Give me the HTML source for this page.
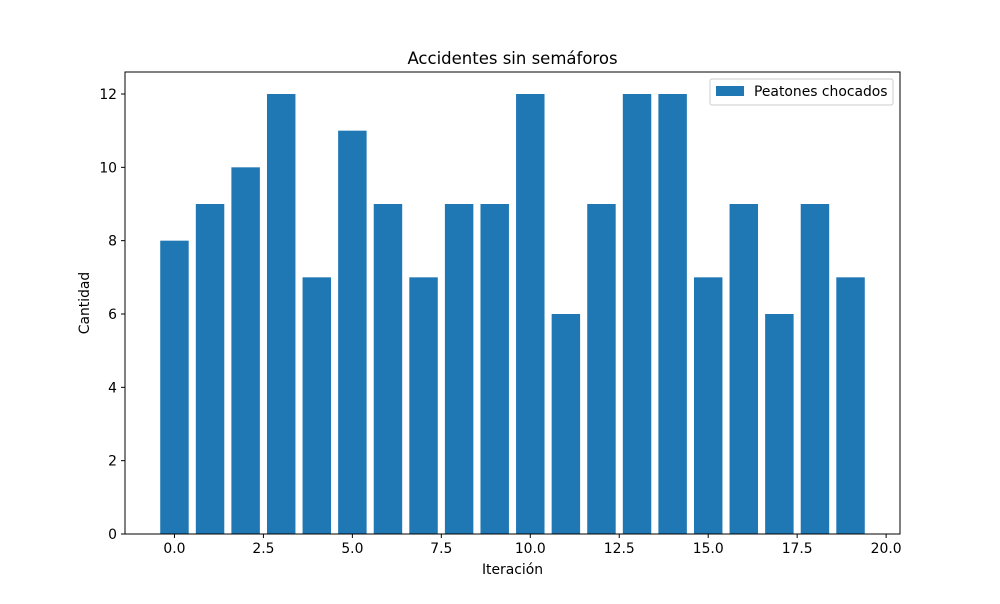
<!DOCTYPE html>
<html><head><meta charset="utf-8"><style>
body{margin:0;background:#fff;font-family:"DejaVu Sans","Liberation Sans",sans-serif}
</style></head><body>
<svg id="chart" width="1000" height="600" xmlns="http://www.w3.org/2000/svg" font-family="DejaVu Sans, Liberation Sans, sans-serif">
<rect width="1000" height="600" fill="#fff"/>
<g id="bars"></g>
<g id="axes"></g>
<rect x="125" y="72" width="775" height="462" fill="none" stroke="#000" stroke-width="1"/>
<text x="512.5" y="64" text-anchor="middle" font-size="16.5">Accidentes sin semáforos</text>
<text x="512.5" y="574" text-anchor="middle" font-size="13.9">Iteración</text>
<text transform="translate(89,303) rotate(-90)" text-anchor="middle" font-size="13.9">Cantidad</text>
<g>
<rect x="710" y="79" width="183" height="26" fill="#fff" stroke="#ccc" rx="2"/>
<rect x="716" y="86" width="28" height="10" fill="#1f77b4"/>
<text x="754" y="96" font-size="13.9">Peatones chocados</text>
</g>
</svg>
<script>
const categories=[0,1,2,3,4,5,6,7,8,9,10,11,12,13,14,15,16,17,18,19];
const values=[8,9,10,12,7,11,9,7,9,9,12,6,9,12,12,7,9,6,9,7];
const xTicks=[0,2.5,5,7.5,10,12.5,15,17.5,20];
const xTickLabels=["0.0","2.5","5.0","7.5","10.0","12.5","15.0","17.5","20.0"];
const yTicks=[0,2,4,6,8,10,12];
const NS="http://www.w3.org/2000/svg";
const L=125,R=900,T=72,B=534;
const xmin=-1.39,xmax=20.39,ymin=0,ymax=12.6;
const xs=v=>L+(v-xmin)/(xmax-xmin)*(R-L);
const ys=v=>B-(v-ymin)/(ymax-ymin)*(B-T);
function mk(t,a){const e=document.createElementNS(NS,t);for(const k in a)e.setAttribute(k,a[k]);return e;}
const bars=document.getElementById('bars'),axes=document.getElementById('axes');
categories.forEach((c,i)=>{
 const x0=xs(c-0.4),x1=xs(c+0.4);
 const r=mk('rect',{x:x0,y:ys(values[i]),width:x1-x0,height:ys(0)-ys(values[i]),fill:'#1f77b4'});
 
 
 bars.appendChild(r);
});
xTicks.forEach((t,i)=>{
 const x=xs(t);
 const l=mk('line',{x1:x,x2:x,y1:B,y2:B+4,stroke:'#000'});
 
 
 axes.appendChild(l);
 const tx=mk('text',{x:x,y:B+19,'text-anchor':'middle','font-size':'13.9'});
 tx.textContent=xTickLabels[i];
 
 
 axes.appendChild(tx);
});
yTicks.forEach(t=>{
 const y=ys(t);
 const l=mk('line',{x1:L-4,x2:L,y1:y,y2:y,stroke:'#000'});
 
 
 axes.appendChild(l);
 const tx=mk('text',{x:L-8,y:y+5,'text-anchor':'end','font-size':'13.9'});
 tx.textContent=String(t);
 
 
 axes.appendChild(tx);
});
</script>
</body></html>
